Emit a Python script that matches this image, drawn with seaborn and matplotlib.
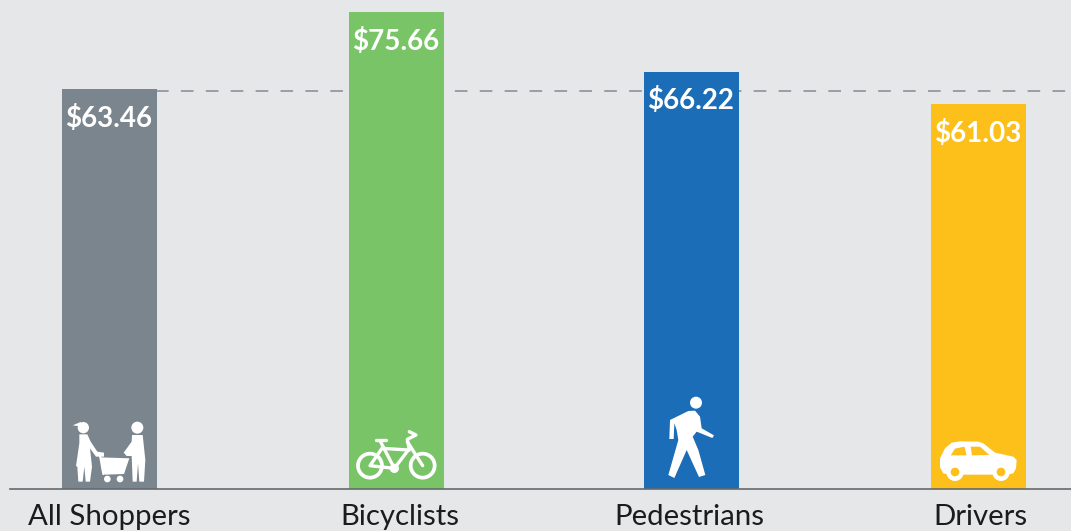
import pandas as pd
import seaborn as sns
import matplotlib.pyplot as plt
from matplotlib.patches import Circle, Polygon

categories = ["All Shoppers", "Bicyclists", "Pedestrians", "Drivers"]
spend = [63.46, 75.66, 66.22, 61.03]
average_line = 63.15
bar_colors = ["#7b858d", "#78c467", "#1a6db6", "#fdbf1a"]

# layout in pixels, the bars are not evenly spaced in the original
bar_centers = [109.5, 396.5, 691.5, 978.5]
label_centers = [109, 399.5, 689, 980]
bar_px = 95
px_per_dollar = 6.295
base_px = 488.5
bg = "#e6e7e9"

sns.set_style("white")
plt.rcParams["font.family"] = ["Lato", "DejaVu Sans"]
plt.rcParams["lines.scale_dashes"] = False

fig = plt.figure(figsize=(10.71, 5.31), dpi=100, facecolor=bg)
ax = fig.add_axes([0, (531 - base_px) / 531, 1, base_px / 531], facecolor=bg)

df = pd.DataFrame({"cat": categories, "spend": spend, "x": bar_centers})
sns.barplot(data=df, x="x", y="spend", hue="cat", palette=bar_colors, native_scale=True,
            dodge=False, width=bar_px / 287, saturation=1, legend=False, ax=ax, zorder=3,
            linewidth=0, edgecolor="none")

ax.set_xlim(0, 1071)
ax.set_ylim(0, base_px / px_per_dollar)
ax.set_xlabel("")
ax.set_ylabel("")
ax.set_yticks([])
ax.set_xticks(label_centers, categories)
ax.tick_params(axis="x", length=0, pad=11, labelsize=21.2, labelcolor="#1c1c1c")

for side in ["top", "left", "right"]:
    ax.spines[side].set_visible(False)
ax.spines["bottom"].set_bounds(10, 1071)
ax.spines["bottom"].set_color("#666a6d")
ax.spines["bottom"].set_linewidth(1.2)
ax.spines["bottom"].set_zorder(4)

# dashed average runs behind the bars
ax.plot([156, 1071], [average_line, average_line], color="#8b9298", lw=1.2,
        linestyle=(0, (9.1, 8.83)), dash_capstyle="butt", zorder=1)

for x, v in zip(bar_centers, spend):
    ax.annotate(f"${v:.2f}", xy=(x, v), xytext=(-0.7, -21), textcoords="offset points",
                ha="center", va="center", color="white", fontsize=20, fontweight="bold", zorder=5)

# pictograms, drawn in pixel coordinates on an overlay
ov = fig.add_axes([0, 0, 1, 1], facecolor="none")
ov.set_xlim(0, 1071)
ov.set_ylim(531, 0)
ov.axis("off")


def shape(points, ox, oy, color="white"):
    ov.add_patch(Polygon([(ox + x / 3, oy + y / 3) for x, y in points], closed=True, fc=color, ec="none"))


def dot(x, y, r, ox, oy, color="white"):
    ov.add_patch(Circle((ox + x / 3, oy + y / 3), r / 3, fc=color, ec="none"))


def stroke(points, ox, oy, lw=2.4):
    ov.plot([ox + x / 3 for x, y in points], [oy + y / 3 for x, y in points], color="white",
            lw=lw, solid_capstyle="round", solid_joinstyle="round")


# shoppers
ox, oy = 50, 400
dot(100, 83, 17, ox, oy)
shape([(68, 76), (92, 66), (98, 80)], ox, oy)
shape([(88, 103), (112, 103), (122, 125), (142, 155), (162, 158), (162, 170), (138, 170), (120, 145),
       (126, 200), (120, 245), (107, 245), (103, 200), (98, 245), (85, 245), (82, 200), (78, 198), (88, 130)], ox, oy)
dot(262, 83, 18, ox, oy)
shape([(246, 105), (278, 105), (286, 180), (282, 245), (268, 245), (264, 190), (260, 245), (248, 245),
       (245, 168), (230, 168), (221, 158), (245, 125)], ox, oy)
shape([(150, 172), (238, 175), (222, 222), (163, 224)], ox, oy)
stroke([(135, 158), (150, 165), (160, 222)], ox, oy, lw=1.6)
dot(172, 237, 10, ox, oy)
dot(210, 237, 10, ox, oy)

# bicycle
for cx in [960, 1118]:
    ov.add_patch(Circle((ox + cx / 3, oy + 197 / 3), 36 / 3, fc="none", ec="white", lw=2.7))
dot(1033, 205, 14, ox, oy)
stroke([(978, 120), (1008, 120)], ox, oy)
stroke([(990, 122), (1033, 205), (960, 197), (996, 145), (1075, 150), (1033, 205)], ox, oy)
stroke([(1072, 125), (1118, 197)], ox, oy)
stroke([(1078, 95), (1098, 105), (1072, 118), (1078, 150)], ox, oy)

# pedestrian
ox, oy = 630, 380
dot(198, 68, 18, ox, oy)
shape([(120, 120), (175, 93), (195, 92), (210, 110), (215, 145), (252, 166), (247, 174), (200, 155), (188, 170),
       (205, 210), (226, 285), (207, 291), (170, 210), (133, 294), (115, 285), (145, 180), (140, 150), (133, 130),
       (131, 177), (118, 177)], ox, oy)

# car
yellow = bar_colors[3]
shape([(930, 262), (930, 235), (945, 205), (965, 188), (990, 184), (1045, 185), (1060, 190), (1095, 218),
       (1150, 230), (1160, 240), (1158, 265), (1150, 280), (1130, 284), (960, 284), (940, 280)], ox, oy)
for cx in [975, 1113]:
    dot(cx, 277, 26, ox, oy)
    dot(cx, 276, 13, ox, oy, color=yellow)
shape([(962, 226), (975, 206), (1003, 200), (1010, 226)], ox, oy, color=yellow)
shape([(1022, 200), (1050, 200), (1078, 225), (1026, 226)], ox, oy, color=yellow)

fig.savefig("out.png", dpi=100, facecolor=bg)
